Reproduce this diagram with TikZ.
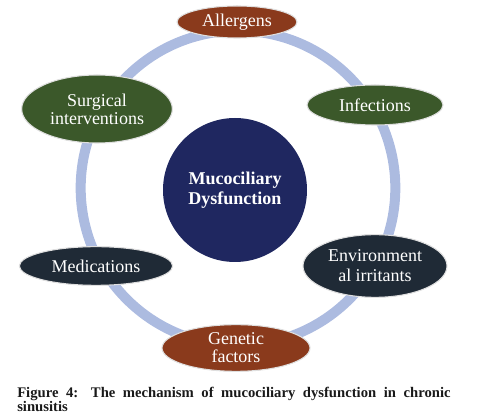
\documentclass[tikz,border=0pt]{standalone}
\usepackage{fontspec}
\setmainfont{Liberation Serif}
\usepackage{xcolor}
\usepackage{tikz}
\usetikzlibrary{shapes.geometric}

\definecolor{ringblue}{RGB}{172,187,224}
\definecolor{hubnavy}{RGB}{31,39,96}
\definecolor{causebrown}{RGB}{138,58,28}
\definecolor{causegreen}{RGB}{59,88,42}
\definecolor{causeslate}{RGB}{31,42,54}

\begin{document}
\begin{tikzpicture}[
    x=0.75pt, y=-0.75pt,
    font=\fontsize{13.5}{13.5}\selectfont,
    cause/.style={
        ellipse,
        draw=gray!25,
        line width=0.8pt,
        inner sep=0pt,
        align=center,
        text=white
    },
    hub/.style={
        circle,
        fill=hubnavy,
        minimum size=108pt,
        inner sep=0pt,
        align=center,
        text=white,
        font=\fontsize{13.5}{15}\selectfont\bfseries
    },
    ring/.style={draw=ringblue, line width=7.5pt}
]
    \useasboundingbox (0,0) rectangle (487,416);

    % ring behind everything
    \coordinate (ringc) at (238,188);
    \draw[ring] (ringc) circle[radius=118pt];

    \node[hub] (mcd) at (235,190) {Mucociliary\\Dysfunction};

    \node[cause, fill=causebrown, minimum width=90pt, minimum height=24pt] (allergens) at (237,22) {Allergens};
    \node[cause, fill=causegreen, minimum width=102pt, minimum height=30pt] (infections) at (375,105) {Infections};
    \node[cause, fill=causeslate, minimum width=108pt, minimum height=47pt,
          font=\fontsize{13.5}{15}\selectfont] (envirr) at (375,266) {Environment\\al irritants};
    \node[cause, fill=causebrown, minimum width=111pt, minimum height=35pt] (genetic) at (236,348) {Genetic\\factors};
    \node[cause, fill=causeslate, minimum width=115pt, minimum height=29pt] (medications) at (96,266) {Medications};
    \node[cause, fill=causegreen, minimum width=113pt, minimum height=51pt] (surgical) at (97,109) {Surgical\\interventions};

    % caption
    \node[anchor=base west, inner sep=0pt, align=left, text=black!90,
          font=\fontsize{11}{10.5}\selectfont\bfseries] (caption) at (17,412)
        {\makebox[325pt][s]{Figure 4: The mechanism of mucociliary dysfunction in chronic}\\sinusitis};
\end{tikzpicture}
\end{document}
